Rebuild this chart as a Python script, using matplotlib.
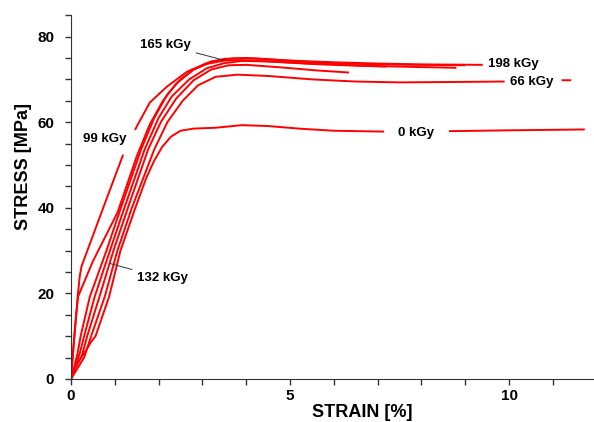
"""
Stress-strain curves of irradiated specimens (tensile test), one curve per dose.
"""
import numpy as np
import matplotlib
matplotlib.use("Agg")
import matplotlib.pyplot as plt
from matplotlib.ticker import MultipleLocator

RED, INK = "#ff0000", "#333333"
plt.rcParams.update({
    "font.family": ["Liberation Sans", "DejaVu Sans"],
    "font.weight": "bold",
    "axes.edgecolor": INK,
})
nan = np.nan

# strain [%] / stress [MPa]; nan leaves a gap where a dose label sits
d0_x = [0, 0.1, 0.3, 0.45, 0.56, 0.87, 1.13, 1.47, 1.72, 1.9, 2.08, 2.28, 2.5, 2.8, 3.3,
        3.9, 4.5, 5.2, 6.0, 7.15, nan, 8.63, 10.0, 11.73]
d0_y = [0, 3, 6, 8.5, 10, 19.2, 30, 40, 47, 51, 54.2, 56.6, 58.0, 58.5, 58.7,
        59.3, 59.1, 58.5, 58.0, 57.8, nan, 57.9, 58.1, 58.3]

d66_x = [0, 0.15, 0.3, 0.46, 0.77, 1.06, 1.39, 1.9, 2.2, 2.55, 2.9, 3.3, 3.8, 4.5, 5.5,
         6.5, 7.5, 8.8, 9.9, nan, 11.2, 11.42]
d66_y = [0, 2.5, 5, 10, 19.2, 30, 40, 53.6, 60, 65, 68.6, 70.6, 71.1, 70.8, 70.0,
         69.5, 69.3, 69.4, 69.5, nan, 69.8, 69.8]

d99_x = [0, 0.04, 0.08, 0.12, 0.16, 0.2, 0.24, 0.7, 1.19, nan, 1.46, 1.8, 2.19, 2.65,
         3.1, 3.5, 4.0, 4.5, 5.5, 7.0, 9.0]
d99_y = [0, 5, 10, 15, 20, 24, 26.3, 39, 52.4, nan, 58.2, 64.6, 68.3, 71.8,
         73.8, 74.8, 75.0, 74.7, 74.0, 73.5, 73.3]

d132_x = [0, 0.1, 0.25, 0.37, 0.65, 0.97, 1.3, 1.76, 2.05, 2.4, 2.8, 3.2, 3.6, 4.0,
          4.8, 5.6, 6.35]
d132_y = [0, 2.5, 5.5, 10, 19.2, 30, 40, 53.6, 60, 65.5, 69.8, 72.3, 73.3, 73.4,
          72.8, 72.1, 71.6]

d165_x = [0, 0.08, 0.15, 0.22, 0.43, 0.81, 1.14, 1.6, 1.9, 2.2, 2.5, 2.8, 3.1, 3.5,
          3.9, 4.5, 5.5, 6.5, 7.2]
d165_y = [0, 3, 6, 10, 19.2, 30, 40, 53.6, 61, 66.5, 70, 72.3, 73.6, 74.4,
          74.5, 74.2, 73.6, 73.2, 73.0]

d165b_x = [0, 0.1, 0.2, 0.3, 0.54, 0.89, 1.22, 1.68, 2.0, 2.3, 2.7, 3.1, 3.5, 3.9,
           4.5, 5.5, 7.0, 8.8]
d165b_y = [0, 3, 6, 10, 19.2, 30, 40, 53.6, 61, 66, 70, 72.6, 73.8, 74.3,
           74.2, 73.7, 73.1, 72.7]

d198_x = [0, 0.05, 0.1, 0.16, 0.5, 0.96, 1.07, 1.5, 1.8, 2.1, 2.4, 2.8, 3.2, 3.7,
          4.2, 5.0, 6.0, 7.0, 8.0, 9.4]
d198_y = [0, 7, 13, 19.2, 27.5, 36.8, 39.1, 52, 59.5, 65, 69, 72.3, 74.2, 74.9,
          74.9, 74.4, 74.0, 73.7, 73.5, 73.4]

curves = [(d0_x, d0_y), (d66_x, d66_y), (d99_x, d99_y), (d132_x, d132_y),
          (d165_x, d165_y), (d165b_x, d165b_y), (d198_x, d198_y)]

fig = plt.figure(figsize=(5.94, 4.22), dpi=100)
ax = fig.add_axes([0.1195, 0.102, 0.8805, 0.862])

for xs, ys in curves:
    ax.plot(xs, ys, color=RED, lw=1.4, solid_capstyle="butt")

lab = dict(fontsize=9.5, fontweight="bold", ha="center", va="center")
ax.text(0.78, 56.1, "99 kGy", **lab)
ax.text(7.88, 57.5, "0 kGy", **lab)
ax.text(10.52, 69.5, "66 kGy", **lab)
ax.text(10.11, 73.7, "198 kGy", **lab)

# leader lines: tip sits on the curve itself
lead = dict(arrowstyle="-", color=INK, lw=0.7, shrinkA=2, shrinkB=0)
tip_y = np.interp(3.52, d165_x[:15], d165_y[:15])
ax.annotate("165 kGy", xy=(3.52, tip_y), xytext=(2.15, 78.1), arrowprops=lead, **lab)
tip_x = np.interp(27.0, d132_y[:8], d132_x[:8])
ax.annotate("132 kGy", xy=(tip_x, 27.0), xytext=(2.1, 23.6), arrowprops=lead, **lab)

ax.set_xlim(0, 11.94)
ax.set_ylim(0, 85)
ax.xaxis.set_major_locator(MultipleLocator(5))
ax.xaxis.set_minor_locator(MultipleLocator(1))
ax.yaxis.set_major_locator(MultipleLocator(20))
ax.yaxis.set_minor_locator(MultipleLocator(5))
ax.tick_params(which="both", direction="out", length=4, width=1, color=INK,
               labelsize=11)
ax.tick_params(axis="y", pad=8)
ax.tick_params(axis="x", pad=3)
for s in ("top", "right"):
    ax.spines[s].set_visible(False)
ax.set_xlabel("STRAIN [%]", fontsize=13, fontweight="bold")
ax.set_ylabel("STRESS [MPa]", fontsize=13, fontweight="bold")
ax.xaxis.set_label_coords(0.556, -0.068)
ax.yaxis.set_label_coords(-0.075, 0.585)

fig.savefig("out.png", dpi=100)
